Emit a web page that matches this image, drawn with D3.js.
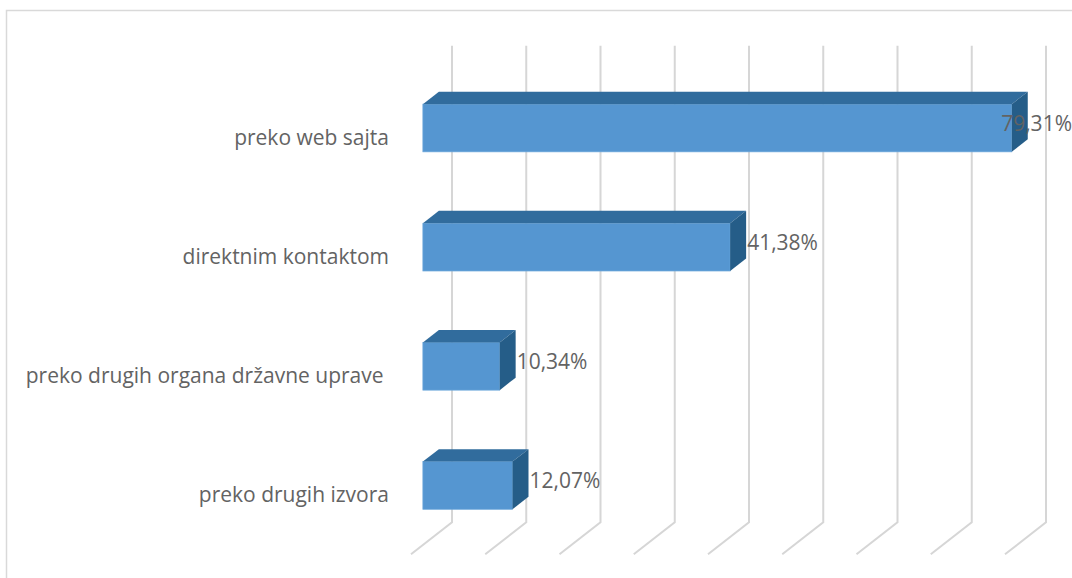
<!DOCTYPE html>
<html>
<head>
<meta charset="utf-8">
<script src="https://cdn.jsdelivr.net/npm/d3@7"></script>
<style>
  html, body { margin: 0; padding: 0; background: #fff; }
  svg { display: block; font-family: "Open Sans", sans-serif; }
</style>
</head>
<body>
<div id="chart"></div>
<script>
const categories = [
    "preko web sajta",
    "direktnim kontaktom",
    "preko drugih organa državne uprave ",
    "preko drugih izvora",
];
const values = [79.31, 41.38, 10.34, 12.07];
const valueLabels = ["79,31%", "41,38%", "10,34%", "12,07%"];
const gridTicks = [0, 10, 20, 30, 40, 50, 60, 70, 80];

const W = 1072, H = 578;

// oblique 3D: depth 0 = back wall, 1 = front edge of the floor
const depthX = -41, depthY = 32;
const barD0 = 0.32, barD1 = 0.71;

const svg = d3.select("#chart").append("svg")
    .attr("width", W)
    .attr("height", H);

// outer frame
svg.append("rect")
    .attr("x", 6.5).attr("y", 10.5)
    .attr("width", W + 20).attr("height", H + 20)
    .attr("fill", "none")
    .attr("stroke", "#d9d9d9")
    .attr("stroke-width", 1.5);

const x = d3.scaleLinear()
    .domain([0, 80])
    .range([452, 1046]);

const y = d3.scaleBand()
    .domain(categories)
    .range([45.7, 522.3])
    .paddingInner(0.6)
    .paddingOuter(0.3);

const px = (v, d) => x(v) + depthX * d;
const py = (yy, d) => yy + depthY * d;
const yBottom = y.range()[1];

// gridlines on back wall + floor
const grid = svg.append("g")
    .attr("fill", "none")
    .attr("stroke", "#d6d6d6")
    .attr("stroke-width", 2);

grid.selectAll("path")
    .data(gridTicks)
    .enter().append("path")
    .attr("d", t => `M${x(t)},${y.range()[0]}L${x(t)},${yBottom}L${px(t, 1)},${py(yBottom, 1)}`);

// bars
const bars = svg.append("g");
categories.forEach((c, i) => {
    const v = values[i];
    const y0 = y(c), y1 = y0 + y.bandwidth();
    const g = bars.append("g");

    g.append("rect")
        .attr("x", px(0, barD1))
        .attr("y", py(y0, barD1))
        .attr("width", x(v) - x(0))
        .attr("height", y.bandwidth())
        .attr("fill", "#5596d1")
        .attr("stroke", "#6aa6db")
        .attr("stroke-width", 0.75);

    g.append("polygon")
        .attr("points", [
            [px(0, barD1), py(y0, barD1)],
            [px(v, barD1), py(y0, barD1)],
            [px(v, barD0), py(y0, barD0)],
            [px(0, barD0), py(y0, barD0)],
        ].join(" "))
        .attr("fill", "#316c9d");

    g.append("polygon")
        .attr("points", [
            [px(v, barD1), py(y0, barD1)],
            [px(v, barD0), py(y0, barD0)],
            [px(v, barD0), py(y1, barD0)],
            [px(v, barD1), py(y1, barD1)],
        ].join(" "))
        .attr("fill", "#255d88");
});

// category labels
svg.append("g")
    .selectAll("text")
    .data(categories)
    .enter().append("text")
    .attr("x", 389)
    .attr("y", d => py(y(d) + y.bandwidth() / 2, 1) + 7.5)
    .attr("text-anchor", "end")
    .style("white-space", "pre")
    .attr("font-size", "21px")
    .attr("fill", "#636363")
    .text(d => d);

// value labels
svg.append("g")
    .selectAll("text")
    .data(categories)
    .enter().append("text")
    .attr("y", d => py(y(d) + y.bandwidth() / 2, barD1) + 3)
    .attr("font-size", "21px")
    .attr("fill", "#636363")
    .text((d, i) => valueLabels[i])
    .attr("x", function (d, i) {
        const w = this.getComputedTextLength();
        return Math.min(px(values[i], barD0) + 1, W - w);
    });
</script>
</body>
</html>
